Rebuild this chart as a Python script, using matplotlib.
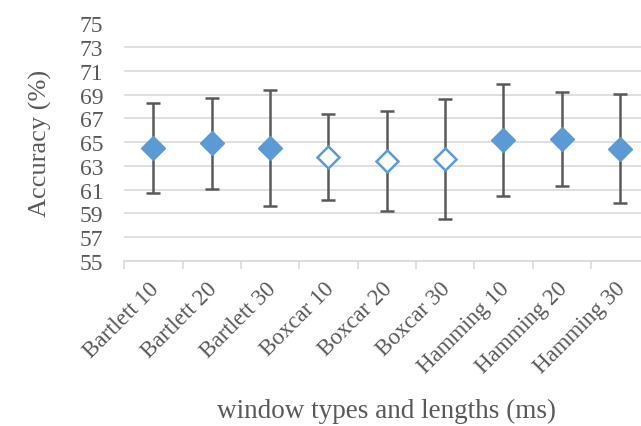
import matplotlib.pyplot as plt
import matplotlib.transforms as mtransforms
import numpy as np

# accuracy per window type / length, with symmetric error bars
labels = ["Bartlett 10", "Bartlett 20", "Bartlett 30",
          "Boxcar 10", "Boxcar 20", "Boxcar 30",
          "Hamming 10", "Hamming 20", "Hamming 30"]
accuracy = [64.5, 64.9, 64.5, 63.75, 63.4, 63.6, 65.2, 65.3, 64.45]
error = [3.8, 3.8, 4.9, 3.65, 4.2, 5.05, 4.7, 3.95, 4.6]
hollow = [False, False, False, True, True, True, False, False, False]

blue = "#5b9bd5"
grey_text = "#595959"

plt.rcParams["font.family"] = ["Liberation Serif", "DejaVu Serif"]

fig = plt.figure(figsize=(6.41, 4.27), dpi=100)
ax = fig.add_axes([124.3 / 641, 165 / 427, 525 / 641, 237.5 / 427])

x = np.arange(len(labels))
for xi, yi, ei, h in zip(x, accuracy, error, hollow):
    ax.errorbar(xi, yi, yerr=ei, fmt="none", ecolor="#595959",
                elinewidth=1.8, capsize=4.8, capthick=1.8, zorder=3)
    if h:
        ax.plot(xi, yi, marker="D", markersize=11, markerfacecolor="white",
                markeredgecolor=blue, markeredgewidth=1.8, linestyle="none", zorder=4)
    else:
        ax.plot(xi, yi, marker="D", markersize=12.5, markerfacecolor=blue,
                markeredgecolor=blue, linestyle="none", zorder=4)

ax.set_xlim(-0.5, len(labels) - 0.5)
ax.set_ylim(55, 75)
ax.set_yticks(np.arange(55, 76, 2))
ax.yaxis.grid(True, color="#d9d9d9", linewidth=1.2)
ax.set_axisbelow(True)

ax.set_xticks(x)
ax.set_xticklabels(labels, rotation=45, ha="right", rotation_mode="anchor")
ax.set_xticks(np.arange(-0.5, len(labels), 1), minor=True)
ax.tick_params(axis="x", which="major", length=0, pad=12, labelsize=16.5, labelcolor=grey_text)
ax.tick_params(axis="x", which="minor", length=6, width=1.2, color="#d9d9d9")
ax.tick_params(axis="y", length=0, pad=15, labelsize=17, labelcolor=grey_text)

# nudge rotated labels a little to the left
shift = mtransforms.ScaledTranslation(-5 / 100, 0, fig.dpi_scale_trans)
for lbl in ax.get_xticklabels():
    lbl.set_transform(lbl.get_transform() + shift)

for s in ["top", "right", "left"]:
    ax.spines[s].set_visible(False)
ax.spines["bottom"].set_color("#d9d9d9")
ax.spines["bottom"].set_linewidth(1.2)

ax.set_ylabel("Accuracy (%)", fontsize=19, color=grey_text, labelpad=20)
ax.set_xlabel("window types and lengths (ms)", fontsize=19.5, color=grey_text, labelpad=15)

fig.savefig("out.png", dpi=100)
